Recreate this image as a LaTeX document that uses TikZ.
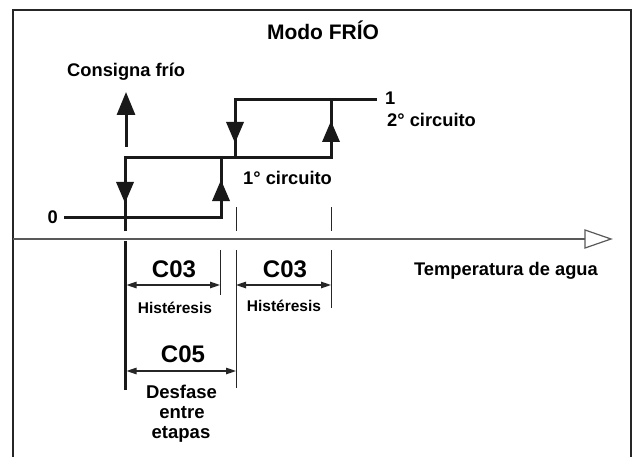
\documentclass[tikz,border=0pt]{standalone}
\usepackage{fontspec}
\setmainfont{Liberation Sans}
\usetikzlibrary{arrows.meta}
\begin{document}
\begin{tikzpicture}[x=1pt,y=-1pt,
  thk/.style={line width=3pt, line join=miter, draw=black!90},
  thin/.style={line width=1pt, draw=black!85},
  dimline/.style={line width=1.2pt, draw=black!85, {Triangle[length=10pt,width=6.5pt]}-{Triangle[length=10pt,width=6.5pt]}},
  axisline/.style={line width=1.2pt, draw=black!65},
  lbl/.style={inner sep=0pt, font=\bfseries\fontsize{18.3}{20}\selectfont},
  big/.style={inner sep=0pt, font=\bfseries\fontsize{24}{26}\selectfont},
  small/.style={inner sep=0pt, font=\bfseries\fontsize{15.5}{17}\selectfont},
  tri/.style={fill=black!90}]
\useasboundingbox (0,0) rectangle (642,457);
\fill[white] (0,0) rectangle (642,457);
% frame
\draw[line width=2pt, black!85] (13,457) -- (13,10) -- (631,10) -- (631,457);
% title and labels
\node[inner sep=0pt, font=\bfseries\fontsize{21}{24}\selectfont, anchor=base] (title) at (323,40) {Modo FRÍO};
\node[lbl, anchor=base west] (consigna) at (67,77) {Consigna frío};
\node[lbl, anchor=base east] (zero) at (58,223) {0};
\node[lbl, anchor=base west] (one) at (385,105) {1};
\node[lbl, anchor=base west] (c2) at (387,127) {2° circuito};
\node[lbl, anchor=base west] (c1) at (243,185) {1° circuito};
\node[lbl, anchor=base] (temp) at (506,275) {Temperatura de agua};
% axis
\coordinate (a0) at (13,239);
\coordinate (a1) at (585,239);
\coordinate (a2) at (611,239);
\draw[axisline] (a0) -- (a1);
\draw[axisline, fill=white, line join=miter] (585,230) -- (a2) -- (585,248) -- cycle;
% consigna arrow
\coordinate (k0) at (126,147);
\coordinate (k1) at (126,92);
\draw[thk, -{Triangle[length=23pt,width=18pt]}] (k0) -- (k1);
% step curve
\coordinate (z0) at (64,217);
\coordinate (z1) at (221,217);
\coordinate (m1) at (221,158);
\coordinate (m0) at (125,158);
\coordinate (m2) at (331,158);
\coordinate (u2) at (331,100);
\coordinate (m3) at (235,158);
\coordinate (u1) at (235,100);
\coordinate (u3) at (377,100);
\coordinate (l1) at (125,231);
\coordinate (l2) at (125,241);
\coordinate (l3) at (125,390);
\draw[thk] (z0) -- (z1) -- (m1);
\draw[thk] (l1) -- (m0) -- (m2) -- (u2);
\draw[thk] (m3) -- (u1) -- (u3);
\draw[thk] (l2) -- (l3);
% direction triangles
\fill[tri] (116,182) -- (134,182) -- (125,203) -- cycle;
\fill[tri] (212,201) -- (230,201) -- (221,180) -- cycle;
\fill[tri] (226,122) -- (244,122) -- (235,143) -- cycle;
\fill[tri] (322,142) -- (340,142) -- (331,121) -- cycle;
% ticks
\draw[thin] (236,207) -- (236,231);
\draw[thin] (331,207) -- (331,231);
\draw[thin] (220,250) -- (220,295);
\draw[thin] (236,250) -- (236,388);
\draw[thin] (331,250) -- (331,308);
% dimensions
\coordinate (d1a) at (126.5,285);
\coordinate (d1b) at (220,285);
\coordinate (d2a) at (236,285);
\coordinate (d2b) at (331,285);
\coordinate (d3a) at (126.5,371);
\coordinate (d3b) at (236,371);
\draw[dimline] (d1a) -- (d1b);
\draw[dimline] (d2a) -- (d2b);
\draw[dimline] (d3a) -- (d3b);
\node[big, anchor=base] (c03a) at (174,277) {C03};
\node[big, anchor=base] (c03b) at (285,277) {C03};
\node[small, anchor=base] (h1) at (175,313) {Histéresis};
\node[small, anchor=base] (h2) at (284,311) {Histéresis};
\node[big, anchor=base] (c05) at (183,362) {C05};
\node[lbl, anchor=base, font=\bfseries\fontsize{18.5}{20}\selectfont] (ds1) at (181.5,398) {Desfase};
\node[lbl, anchor=base, font=\bfseries\fontsize{18.5}{20}\selectfont] (ds2) at (182,418) {entre};
\node[lbl, anchor=base, font=\bfseries\fontsize{18.5}{20}\selectfont] (ds3) at (181,438) {etapas};
\end{tikzpicture}
\end{document}
